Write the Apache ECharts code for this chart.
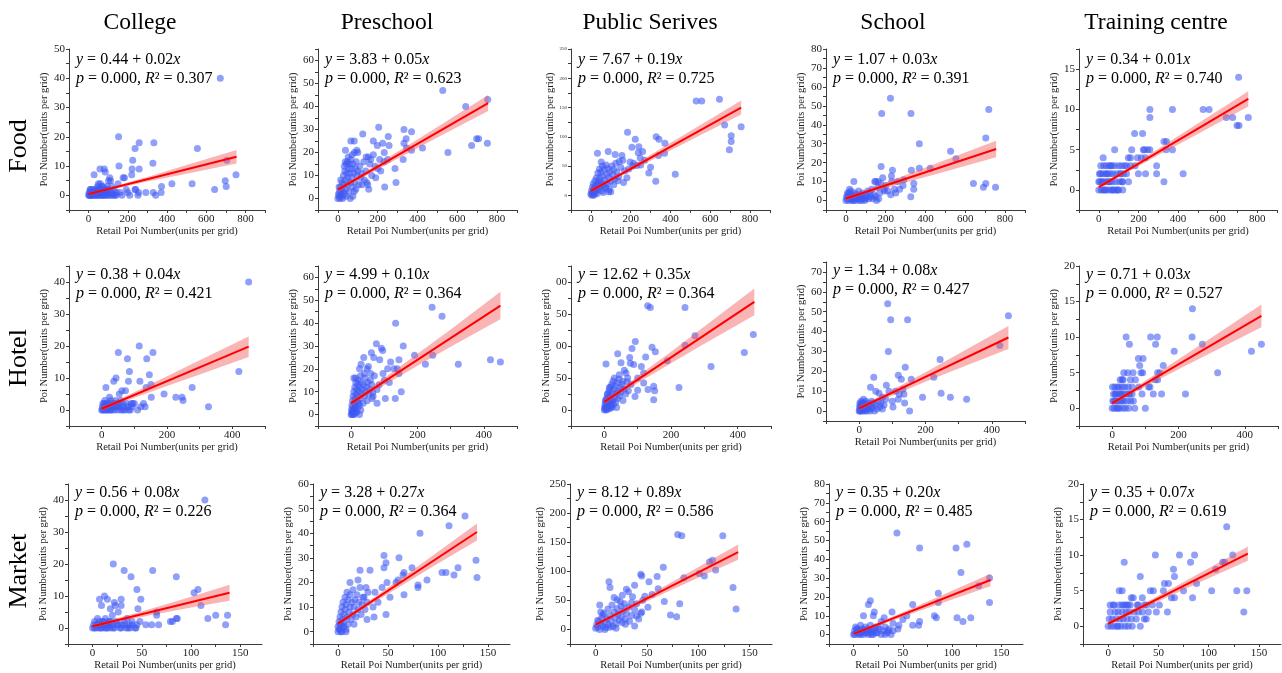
<!DOCTYPE html>
<html>
<head>
<meta charset="utf-8">
<script src="https://cdn.jsdelivr.net/npm/echarts@6/dist/echarts.min.js"></script>
<style>
html,body{margin:0;padding:0;background:#fff;}
#chart{width:1282px;height:673px;}
</style>
</head>
<body>
<div id="chart"></div>
<script>
// ---------------- DATA ----------------
const columnNames = ['College', 'Preschool', 'Public Serives', 'School', 'Training centre'];
const rowNames = ['Food', 'Hotel', 'Market'];

const intercepts = [['0.44','3.83','7.67','1.07','0.34'],['0.38','4.99','12.62','1.34','0.71'],['0.56','3.28','8.12','0.35','0.35']];
const slopes = [['0.02','0.05','0.19','0.03','0.01'],['0.04','0.10','0.35','0.08','0.03'],['0.08','0.27','0.89','0.20','0.07']];
const pValues = [['0.000','0.000','0.000','0.000','0.000'],['0.000','0.000','0.000','0.000','0.000'],['0.000','0.000','0.000','0.000','0.000']];
const r2Values = [['0.307','0.623','0.725','0.391','0.740'],['0.421','0.364','0.364','0.427','0.527'],['0.226','0.364','0.586','0.485','0.619']];

// fitted line end points: start at x=0
const fitStartY = [[0.44,3.83,7.67,1.07,0.34],[0.38,4.99,12.62,1.34,0.71],[0.56,3.28,8.12,0.35,0.35]];
const fitEndX = [755, 450, 139];
const fitEndY = [[13.2,41.5,150,27.2,11.3],[19.8,47.7,169,37,13],[11,40.5,133,29,10.2]];

// confidence band half widths read at these x positions
const bandX = [[0,100,300,500,755],[0,50,200,300,450],[0,15,60,100,139]];
const bandHalf = [
  [[0.5,0.4,0.8,1.5,2.3],[1.2,0.9,1.5,2.3,3.5],[3,2.5,5,8,12],[1.2,1,2,3,4.3],[0.3,0.22,0.4,0.65,0.95]],
  [[0.8,0.6,1.5,2.2,3.2],[1.3,1.1,2.6,3.8,6],[4.5,3.5,9,13.5,21],[1.2,1,2.4,3.7,5.8],[0.35,0.28,0.7,1.05,1.6]],
  [[0.6,0.5,1.0,1.7,2.5],[0.9,0.75,1.5,2.4,3.5],[3.5,3,5.5,9,13],[0.9,0.75,1.4,2.3,3.3],[0.3,0.25,0.45,0.7,1.0]]
];

// axis ranges
const xMin = [-100, -100, -25];
const xMax = [900, 500, 172];
const xTickLabels = [[0,200,400,600,800],[0,200,400],[0,50,100,150]];
const yMin = [[-5,-5,-25,-5,-2.5],[-5,-5,-25,-5,-2.5],[-5,-5,-25,-5,-2.5]];
const yMax = [[50,65,250,80,17.5],[45,65,225,75,20],[45,60,250,80,20]];
const yTickLabels = [
  [[0,10,20,30,40,50],[0,10,20,30,40,50,60],[0,50,100,150,200,250],[0,10,20,30,40,50,60,70,80],[0,5,10,15]],
  [[0,10,20,30,40],[0,10,20,30,40,50,60],[0,50,100,150,200],[0,10,20,30,40,50,60,70],[0,5,10,15,20]],
  [[0,10,20,30,40],[0,10,20,30,40,50,60],[0,50,100,150,200,250],[0,10,20,30,40,50,60,70,80],[0,5,10,15,20]]
];

// scatter points [retail POI, POI]
const foodCollege = [[672,40],[153,20],[258,18],[333,18],[237,16],[555,16],[225,12],[705,12],[328,11],[155,10],[58,9],[80,9],[222,9],[258,9],[85,8],[28,7],[752,7],[220,7],[108,6],[183,6],[176,6],[697,5],[102,5],[528,4],[425,4],[150,4],[50,4],[45,3],[372,3],[702,3],[67,3],[643,2],[192,2],[237,2],[8,2],[292,1],[330,1],[370,1],[255,1],[142,1],[252,0],[342,0],
[0,0],[3,1],[6,0],[10,2],[12,0],[15,1],[18,0],[20,2],[24,0],[27,1],[30,0],[33,2],[36,1],[40,0],[43,2],[47,1],[50,0],[53,2],[57,1],[60,0],[63,1],[66,2],[70,0],[73,1],[76,0],[80,2],[84,1],[88,0],[92,1],[96,0],[100,2],[105,0],[110,1],[115,0],[120,1],[125,0],[130,2],[135,0],[160,1],[170,0],[200,1],[210,0],[240,2],[5,0],[8,1],[14,0],[22,1],[38,0],[55,0],[68,1],[78,0],[90,2],[95,3],[118,3],[140,0],[112,5],[60,4],[75,3]];
const foodPreschool = [[527,47],[753,43],[642,40],[205,31],[332,30],[370,29],[125,28],[253,27],[343,26],[697,26],[707,26],[65,25],[82,25],[178,25],[225,24],[751,24],[332,24],[198,23],[257,23],[672,23],[425,22],[345,22],[370,21],[38,21],[95,21],[100,20],[233,20],[553,20],[178,19],[142,18],[153,18],[250,17],[328,17],[37,16],[48,16],[232,16],[287,13],[187,14],[133,8],[120,6],[145,7],[292,7],[155,4],[235,5],[75,1],
[0,0],[3,2],[5,1],[8,3],[10,0],[12,5],[15,2],[18,4],[20,1],[22,7],[25,3],[28,10],[30,6],[33,2],[35,12],[38,8],[40,4],[43,15],[45,11],[48,6],[50,9],[53,13],[55,3],[58,15],[60,11],[63,7],[65,17],[68,13],[70,9],[73,5],[76,15],[80,11],[83,20],[85,7],[88,13],[92,16],[95,10],[100,12],[105,6],[110,14],[115,9],[118,11],[130,16],[140,12],[160,15],[170,10],[200,13],[210,17],[6,5],[14,8],[24,0],[32,14],[42,1],[52,18],[62,0],[72,19],[82,3],[90,4],[150,6],[165,17],[190,9],[215,12]];
const foodPublic = [[529,161],[557,161],[646,164],[672,120],[755,117],[184,108],[705,102],[705,92],[696,78],[328,100],[342,96],[223,96],[372,89],[206,82],[241,83],[87,75],[33,72],[370,72],[122,70],[156,68],[340,68],[248,64],[197,57],[52,57],[231,51],[424,36],[291,38],[326,24],[164,22],[181,30],[89,6],[100,6],[238,73],[260,75],[250,52],[270,60],[210,50],[300,48],
[0,2],[3,8],[5,0],[8,14],[10,4],[12,20],[15,10],[18,2],[20,25],[22,15],[25,6],[28,30],[30,18],[33,9],[35,38],[38,24],[40,12],[43,45],[45,30],[48,16],[50,40],[53,22],[55,8],[58,50],[60,33],[63,18],[66,44],[70,26],[73,12],[76,52],[80,36],[83,20],[86,46],[90,30],[95,40],[100,24],[105,50],[110,35],[115,44],[120,28],[125,55],[130,40],[140,32],[150,48],[160,60],[170,42],[6,4],[14,0],[24,12],[32,3],[42,20],[62,5],[75,15],[92,10],[115,18],[135,25],[142,58],[190,45],[215,55]];
const foodSchool = [[224,54],[180,46],[327,46],[718,48],[369,30],[703,33],[177,18],[526,26],[553,22],[234,16],[329,16],[369,17],[424,17],[229,13],[185,12],[145,10],[40,10],[162,10],[291,11],[341,9],[641,9],[703,9],[691,7],[752,7],[287,8],[194,5],[244,6],[341,6],[250,4],[225,3],[326,2],[154,0],
[0,0],[3,2],[6,1],[10,3],[13,0],[16,4],[20,1],[23,2],[26,5],[30,0],[33,3],[36,1],[40,2],[44,4],[48,0],[52,1],[56,3],[60,2],[64,5],[68,0],[72,1],[76,3],[80,2],[85,4],[90,1],[95,0],[100,3],[105,2],[110,5],[115,1],[120,4],[125,2],[130,6],[140,3],[150,10],[160,7],[170,4],[175,9],[190,6],[200,8],[210,5],[8,4],[18,6],[28,2],[38,0],[58,1],[78,0],[98,1],[135,1],[150,2],[165,1],[260,10],[270,6],[230,10]];
const foodTraining = [[706,14],[258,10],[372,10],[527,10],[557,10],[258,9],[644,9],[676,9],[755,9],[698,8],[708,8],[181,7],[221,7],[80,5],[166,5],[225,5],[247,5],[258,5],[372,5],[329,6],[342,6],[149,4],[195,4],[235,4],[22,4],[292,3],[183,3],[200,2],[236,2],[292,2],[426,2],[329,1],[121,0],[340,5],[215,4],[230,5],[160,4],[140,3],
[0,0],[5,1],[8,2],[12,0],[15,1],[18,2],[22,0],[25,3],[28,1],[32,2],[35,0],[38,3],[42,1],[45,2],[48,0],[52,3],[55,1],[58,2],[62,0],[65,3],[68,1],[72,2],[75,0],[80,3],[85,1],[90,2],[95,0],[100,3],[105,1],[110,2],[115,3],[120,1],[125,2],[130,3],[140,2],[150,1],[160,3],[0,1],[3,2],[10,3],[20,1],[30,0],[40,2],[50,1],[60,3],[70,0],[88,0],[100,0],[108,2],[118,1]];

const hotelCollege = [[450,40],[420,12],[115,20],[51,18],[157,18],[79,16],[138,16],[85,12],[146,11],[44,10],[37,9],[82,9],[117,9],[13,7],[277,7],[136,7],[62,6],[73,6],[151,8],[54,5],[191,5],[227,4],[246,4],[152,4],[24,4],[249,3],[128,2],[95,2],[133,1],[327,1],[83,0],[100,2],[90,2],
[0,0],[2,1],[4,2],[6,0],[8,1],[10,3],[12,0],[14,2],[16,1],[18,0],[20,2],[22,1],[25,0],[28,3],[30,1],[32,0],[35,2],[38,1],[40,0],[43,3],[46,1],[50,0],[53,2],[56,1],[60,0],[64,2],[68,1],[72,0],[76,2],[80,1],[88,0],[92,1],[3,0],[7,2],[11,1],[15,0],[19,1],[24,2],[27,0],[34,1],[42,2],[48,1],[58,3],[66,0],[110,0],[120,1]];
const hotelPreschool = [[244,47],[274,43],[134,40],[76,31],[157,30],[91,29],[95,28],[61,27],[191,26],[246,26],[38,25],[68,25],[144,24],[86,24],[420,24],[450,23],[119,23],[323,22],[224,22],[25,20],[48,20],[129,20],[139,20],[144,18],[96,18],[115,14],[8,16],[13,16],[151,10],[65,9.5],[78,11],[63,7],[103,7],[133,7],[78,5],[25,4],[52,21],[40,18],[30,22],[58,15],[70,17],[100,15],[84,13],[110,20],
[0,0],[1,2],[2,4],[3,1],[4,6],[5,3],[6,8],[7,0],[8,10],[9,5],[10,2],[11,12],[12,7],[13,4],[14,14],[15,9],[16,1],[17,11],[18,6],[19,3],[20,13],[21,8],[22,15],[23,5],[24,10],[25,0],[26,12],[27,7],[28,17],[29,2],[30,14],[32,9],[34,11],[36,5],[38,13],[40,8],[42,16],[44,10],[46,12],[48,6],[50,14],[53,9],[56,11],[59,18],[62,13],[66,8],[2,0],[4,1],[6,2],[8,0],[10,5],[12,3],[14,1],[16,6]];
const hotelPublic = [[130,163],[138,160],[242,160],[272,116],[447,118],[242,101],[93,107],[420,90],[320,68],[83,96],[143,98],[153,91],[124,83],[40,88],[76,82],[189,77],[78,73],[88,71],[5,72],[111,68],[50,74],[65,58],[118,58],[224,35],[148,37],[131,32],[151,30],[148,16],[92,21],[100,31],[118,42],[37,4],[60,62],[70,50],[45,55],[55,45],[30,50],[100,50],[80,40],
[0,0],[1,4],[2,8],[3,2],[4,12],[5,5],[6,16],[7,1],[8,20],[9,9],[10,3],[11,25],[12,14],[13,6],[14,30],[15,10],[16,2],[17,18],[18,35],[19,7],[20,22],[21,12],[22,40],[23,4],[24,27],[25,15],[26,45],[27,9],[28,32],[30,20],[32,38],[34,12],[36,26],[38,42],[40,18],[42,30],[44,48],[46,22],[48,35],[50,28],[53,40],[56,15],[60,33],[64,25],[68,44],[72,30],[3,15],[6,0],[9,25],[15,35],[20,5]];
const hotelSchool = [[86,54],[95,46],[146,46],[450,48],[424,33],[88,30],[244,26],[139,22],[225,17],[44,17],[118,18],[157,16],[127,16],[82,13],[34,12],[132,11],[121,8.5],[50,10],[191,7],[275,7],[324,6],[247,9],[137,4],[135,8.5],[102,2],[152,0],[118,6],[60,9],[70,7],[100,5],[90,10],[110,10],
[0,0],[1,2],[2,4],[3,1],[4,3],[5,0],[6,5],[7,2],[8,1],[9,4],[10,0],[11,3],[12,2],[13,6],[14,1],[15,3],[16,0],[17,4],[18,2],[19,1],[20,5],[22,0],[24,3],[26,1],[28,4],[30,2],[32,0],[34,3],[36,1],[38,5],[40,2],[43,4],[46,0],[50,3],[54,1],[58,5],[62,2],[66,4],[70,1],[75,3],[80,6],[2,0],[6,3],[10,1]];
const hotelTraining = [[242,14],[42,10],[116,10],[136,10],[241,10],[52,9],[131,9],[272,9],[450,9],[187,8],[420,8],[79,7],[93,7],[83,6],[154,6],[318,5],[35,5],[47,5],[63,5],[87,5],[92,5],[137,5],[144,5],[114,3],[137,4],[124,2],[149,2],[221,2],[100,0],[70,4],[55,4],[30,4],[80,3],[60,3],[50,2],[110,3],[90,2],[130,4],
[0,0],[2,1],[4,2],[6,0],[8,3],[10,1],[12,2],[14,0],[16,3],[18,1],[20,2],[22,0],[24,4],[26,1],[28,2],[30,3],[32,0],[34,2],[36,1],[38,3],[40,0],[42,2],[45,1],[48,3],[50,0],[53,2],[56,1],[60,2],[64,1],[68,0],[1,3],[5,1],[9,2],[13,1],[17,0],[21,3],[25,2],[29,1],[33,4]];

const marketCollege = [[114,40],[21,20],[32,18],[61,18],[39,16],[85,16],[45,12],[107,12],[103,11],[110,7],[12,10],[15,9],[7,9],[29,9],[49,9],[22,8],[23,7],[9,7],[29,7],[18,6],[46,6],[26,5],[65,5],[65,4],[125,4],[137,4],[117,3],[85,3],[86,3],[79,2],[81,2],[54,1],[60,1],[67,1],[135,1],[44,0],[48,2],[35,3],[20,4],[40,1],[36,0],
[0,0],[1,1],[2,2],[3,0],[4,1],[5,3],[6,0],[7,2],[8,1],[9,0],[10,2],[11,1],[12,0],[13,3],[14,1],[15,0],[16,2],[17,1],[18,0],[19,2],[20,1],[22,0],[24,2],[26,1],[28,0],[30,1],[32,2],[34,0],[37,1],[40,2],[43,0],[2,0],[5,1],[8,0],[11,2],[14,0],[17,2],[21,0],[25,1],[29,0],[33,1],[38,0],[45,1]];
const marketPreschool = [[127,47],[111,43],[82,40],[46,31],[61,30],[48,28],[46,26],[74,26],[120,26],[22,25],[32,25],[138,29],[104,24],[108,24],[116,23],[66,24],[139,22],[65,23],[49,20],[60,21],[80,19],[89,21],[20,21],[12,20],[80,18],[30,16],[66,15],[48,7],[29,5],[16,3],[36,6],[37,16],[40,12],[44,18],[52,14],[35,10],[58,20],[25,14],[28,18],
[0,0],[0,2],[1,4],[1,1],[2,6],[2,3],[3,8],[3,0],[4,10],[4,5],[5,2],[5,12],[6,7],[6,4],[7,14],[7,9],[8,1],[8,11],[9,6],[9,16],[10,3],[10,13],[11,8],[12,10],[12,15],[13,5],[14,12],[15,7],[15,17],[16,10],[17,13],[18,6],[19,15],[20,9],[21,12],[22,18],[23,7],[24,11],[26,14],[27,9],[29,12],[2,1],[4,0],[6,2],[8,0],[3,3]];
const marketPublic = [[80,163],[84,161],[124,161],[137,35],[134,72],[111,116],[114,119],[117,102],[106,92],[101,96],[86,89],[66,107],[44,95],[45,92],[14,72],[13,82],[60,91],[82,44],[79,22],[73,25],[67,48],[61,70],[52,82],[38,76],[30,69],[26,59],[21,51],[51,38],[38,6],[29,9],[40,23],[4,42],[7,25],[48,57],[35,46],[55,60],[45,30],[25,40],[32,65],[18,55],
[0,2],[1,8],[2,4],[3,14],[4,0],[5,10],[6,20],[7,6],[8,28],[9,12],[10,3],[11,18],[12,35],[13,8],[14,24],[15,15],[16,42],[17,5],[18,30],[19,20],[20,10],[21,36],[22,26],[23,16],[24,48],[25,22],[26,12],[27,32],[28,44],[29,18],[30,28],[32,38],[33,14],[35,24],[36,56],[38,34],[40,44],[42,18],[44,28],[46,50],[2,16],[5,30],[9,0],[14,4],[20,2]];
const marketSchool = [[44,54],[67,46],[104,46],[115,48],[109,33],[138,30],[138,17],[127,26],[86,22],[86,17],[17,18],[15,16],[60,16],[105,9],[119,9],[111,7],[82,10],[84,9],[67,7],[66,5],[54,10],[39,12],[31,9],[21,12],[20,10],[10,10],[60,5],[46,5],[35,2],[32,0],[50,8],[40,6],[28,7],[45,3],[25,4],
[0,0],[1,2],[2,4],[3,1],[4,3],[5,0],[6,2],[7,5],[8,1],[9,3],[10,0],[11,2],[12,4],[13,1],[14,3],[15,0],[16,2],[17,5],[18,1],[19,3],[20,0],[21,2],[22,4],[24,1],[26,3],[28,0],[30,2],[32,4],[34,1],[36,3],[38,0],[40,2],[1,0],[3,3],[5,1],[7,0],[9,2],[12,1],[15,2],[18,0],[23,1]];
const marketTraining = [[118,14],[47,10],[71,10],[124,10],[86,10],[16,9],[114,9],[116,9],[32,7],[65,8],[107,8],[66,7],[56,6],[128,5],[103,5],[14,5],[11,5],[23,4],[34,4],[66,4],[84,4],[44,3],[51,3],[48,2],[135,2],[59,2],[42,5],[60,6],[29,3],[25,4],[38,3],[45,5],[55,5],[63,4],[75,5],[20,3],[88,6],[82,9],[138,5],[30,2],[36,1],
[0,0],[1,1],[2,2],[3,0],[4,1],[5,3],[6,0],[7,2],[8,1],[9,0],[10,2],[11,3],[12,1],[13,0],[14,2],[15,1],[16,3],[17,0],[18,2],[19,1],[20,0],[21,2],[22,3],[23,1],[24,0],[26,2],[28,1],[30,3],[32,0],[34,2],[36,3],[38,1],[40,2],[2,3],[6,3],[10,0],[14,3],[18,3]];

const panelData = [
  [foodCollege, foodPreschool, foodPublic, foodSchool, foodTraining],
  [hotelCollege, hotelPreschool, hotelPublic, hotelSchool, hotelTraining],
  [marketCollege, marketPreschool, marketPublic, marketSchool, marketTraining]
];

// ---------------- LAYOUT ----------------
const gLeft = [[69,318,571,826,1079],[69,318,571,826,1079],[68,313,570,829,1083]];
const gRight = [[265,517,770,1025,1277],[265,517,771,1025,1278],[262,510,772,1023,1281]];
const gTop = [[49,49,49,49,49],[266,266,266,262,266],[484,484,484,484,484]];
const gBottom = [[210,210,210,210,210],[426,426,426,421,426],[644,644,644,644,644]];
const titleX = [140, 387, 650, 893, 1156];
const rowLabelY = [146, 358, 571];

const FONT = '"Liberation Serif", "Times New Roman", serif';
const AXIS_COLOR = '#3a3a3a';

function withMid(labels, min, max) {
  const step = labels[1] - labels[0];
  const out = [];
  for (let v = labels[0] - step / 2; v <= max + 1e-9; v += step / 2) {
    if (v >= min - 1e-9) out.push(+v.toFixed(4));
  }
  return out;
}

const grids = [], xAxes = [], yAxes = [], series = [], graphics = [];
let idx = 0;
for (let r = 0; r < 3; r++) {
  for (let c = 0; c < 5; c++) {
    const L = gLeft[r][c], R = gRight[r][c], T = gTop[r][c], B = gBottom[r][c];
    grids.push({ left: L, top: T, width: R - L, height: B - T, outerBoundsMode: 'none', containLabel: false });
    xAxes.push({
      gridIndex: idx, type: 'value', min: xMin[r], max: xMax[r],
      axisLine: { show: true, onZero: false, lineStyle: { color: AXIS_COLOR, width: 1 } },
      axisTick: { show: true, length: 3, customValues: withMid(xTickLabels[r], xMin[r], xMax[r]), lineStyle: { color: AXIS_COLOR } },
      axisLabel: { customValues: xTickLabels[r], fontFamily: FONT, fontSize: 11, color: '#1a1a1a', margin: 4 },
      splitLine: { show: false },
      name: 'Retail Poi Number(units per grid)', nameLocation: 'middle', nameGap: 14,
      nameTextStyle: { fontFamily: FONT, fontSize: 10.5, color: '#222' }
    });
    const tiny = (r === 0 && c === 2);
    const trunc = (r === 1 && c === 2);
    yAxes.push({
      gridIndex: idx, type: 'value', min: yMin[r][c], max: yMax[r][c],
      axisLine: { show: true, onZero: false, lineStyle: { color: AXIS_COLOR, width: 1 } },
      axisTick: { show: true, length: 3, customValues: withMid(yTickLabels[r][c], yMin[r][c], yMax[r][c]), lineStyle: { color: AXIS_COLOR } },
      axisLabel: {
        customValues: yTickLabels[r][c], fontFamily: FONT, fontSize: tiny ? 5 : 11, color: '#1a1a1a', margin: 4,
        formatter: trunc ? (v => String(v).slice(-2)) : (v => String(v))
      },
      splitLine: { show: false },
      name: 'Poi Number(units per grid)', nameLocation: 'middle', nameGap: tiny ? 10 : 16,
      nameTextStyle: { fontFamily: FONT, fontSize: 10.5, color: '#222' }
    });

    // scatter
    series.push({
      type: 'scatter', xAxisIndex: idx, yAxisIndex: idx, data: panelData[r][c],
      symbolSize: 7, itemStyle: { color: 'rgba(62,88,242,0.72)' }, z: 2, silent: true
    });
    // confidence band
    const y0 = fitStartY[r][c], x1 = fitEndX[r], y1 = fitEndY[r][c];
    const bx = bandX[r], bh = bandHalf[r][c];
    series.push({
      type: 'custom', xAxisIndex: idx, yAxisIndex: idx, data: [[0, y0]], z: 3, silent: true,
      renderItem: (function (bx, bh, y0, x1, y1) {
        return function (params, api) {
          const up = [], low = [];
          for (let k = 0; k < bx.length; k++) {
            const yc = y0 + (y1 - y0) * bx[k] / x1;
            up.push(api.coord([bx[k], yc + bh[k]]));
            low.push(api.coord([bx[k], yc - bh[k]]));
          }
          return { type: 'polygon', shape: { points: up.concat(low.reverse()) }, style: { fill: 'rgba(242,90,90,0.45)' } };
        };
      })(bx, bh, y0, x1, y1)
    });
    // fit line
    series.push({
      type: 'line', xAxisIndex: idx, yAxisIndex: idx, data: [[0, y0], [x1, y1]],
      symbol: 'none', lineStyle: { color: '#ff0000', width: 2 }, z: 4, silent: true
    });
    // equation text
    graphics.push({
      type: 'text', left: L + 7, top: T + (r === 0 ? 1 : -1), z: 10,
      style: {
        text: '{i|y} = ' + intercepts[r][c] + ' + ' + slopes[r][c] + '{i|x}\n{i|p} = ' + pValues[r][c] + ', {i|R}² = ' + r2Values[r][c],
        fontFamily: FONT, fontSize: 16, lineHeight: 19, fill: '#000',
        rich: { i: { fontFamily: FONT, fontSize: 16, fontStyle: 'italic', lineHeight: 19, fill: '#000' } }
      }
    });
    idx++;
  }
}
for (let c = 0; c < 5; c++) {
  graphics.push({
    type: 'text', x: titleX[c], y: 23, z: 10,
    style: { text: columnNames[c], fontFamily: FONT, fontSize: 23.5, fill: '#000', align: 'center', verticalAlign: 'middle' }
  });
}
for (let r = 0; r < 3; r++) {
  graphics.push({
    type: 'text', x: 19, y: rowLabelY[r], rotation: Math.PI / 2, z: 10,
    style: { text: rowNames[r], fontFamily: FONT, fontSize: 26, fill: '#000', align: 'center', verticalAlign: 'middle' }
  });
}

const chart = echarts.init(document.getElementById('chart'), null, { renderer: 'canvas' });
chart.setOption({
  backgroundColor: '#ffffff',
  animation: false,
  grid: grids,
  xAxis: xAxes,
  yAxis: yAxes,
  series: series,
  graphic: graphics
});
</script>
</body>
</html>
